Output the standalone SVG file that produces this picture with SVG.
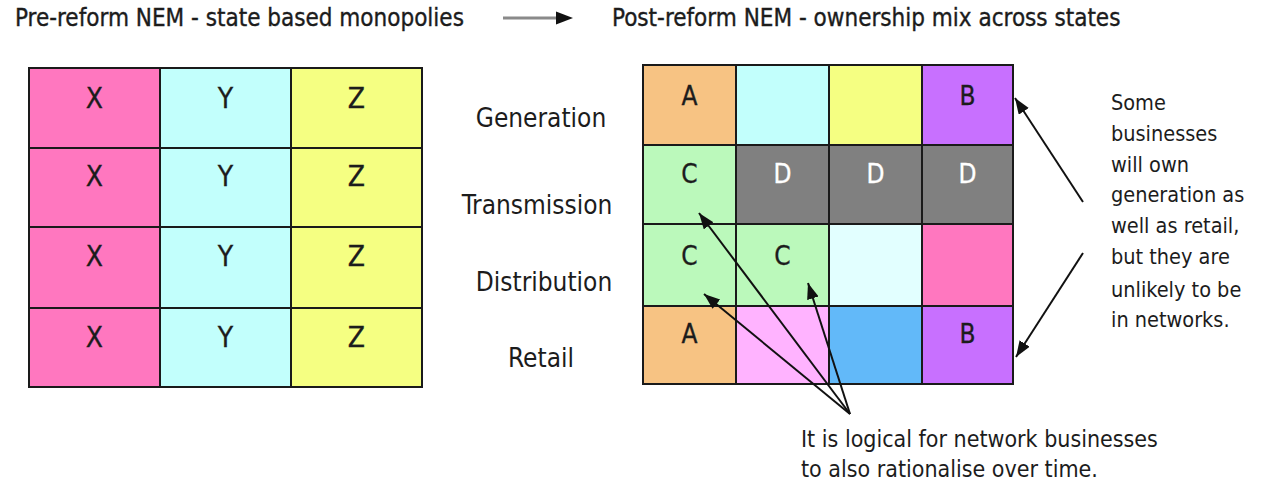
<svg xmlns="http://www.w3.org/2000/svg" width="1266" height="483" viewBox="0 0 1266 483">
<style>
text{font-family:"DejaVu Sans Condensed","DejaVu Sans","Liberation Sans",sans-serif;fill:#1c1c1c}
.title{font-size:24px;stroke:#1c1c1c;stroke-width:0.35}
.lbl{font-size:26px;text-anchor:middle}
.cl{font-size:28px;text-anchor:middle;stroke:#1c1c1c;stroke-width:0.3}
.cr{font-size:26px;text-anchor:middle;stroke:#1c1c1c;stroke-width:0.3}
.wt{fill:#ffffff;stroke:#ffffff}
.note{font-size:21.5px}
.note2{font-size:23px}
.cell{stroke:#1a1a1a;stroke-width:2}
.conn{stroke:#111;stroke-width:2;fill:none;marker-end:url(#ah)}
</style>
<defs>
<marker id="ah" markerUnits="userSpaceOnUse" markerWidth="18" markerHeight="14" refX="16" refY="6" orient="auto">
<path d="M0,0 L16,6 L0,12 z" fill="#111"/>
</marker>
</defs>
<rect width="1266" height="483" fill="#ffffff"/>

<g id="title-pre"><text class="title" x="15" y="26">Pre-reform NEM - state based monopolies</text></g>
<g id="title-post"><text class="title" x="612" y="26">Post-reform NEM - ownership mix across states</text></g>

<g id="pre-grid">
<g id="pre-gen-x"><rect class="cell" x="29" y="68" width="131" height="80" fill="#FF77BF"/><text class="cl" x="94.5" y="108">X</text></g>
<g id="pre-gen-y"><rect class="cell" x="160" y="68" width="131" height="80" fill="#C2FFFC"/><text class="cl" x="225.5" y="108">Y</text></g>
<g id="pre-gen-z"><rect class="cell" x="291" y="68" width="131" height="80" fill="#F5FF82"/><text class="cl" x="356.5" y="108">Z</text></g>
<g id="pre-tra-x"><rect class="cell" x="29" y="148" width="131" height="79" fill="#FF77BF"/><text class="cl" x="94.5" y="186">X</text></g>
<g id="pre-tra-y"><rect class="cell" x="160" y="148" width="131" height="79" fill="#C2FFFC"/><text class="cl" x="225.5" y="186">Y</text></g>
<g id="pre-tra-z"><rect class="cell" x="291" y="148" width="131" height="79" fill="#F5FF82"/><text class="cl" x="356.5" y="186">Z</text></g>
<g id="pre-dis-x"><rect class="cell" x="29" y="227" width="131" height="81" fill="#FF77BF"/><text class="cl" x="94.5" y="266">X</text></g>
<g id="pre-dis-y"><rect class="cell" x="160" y="227" width="131" height="81" fill="#C2FFFC"/><text class="cl" x="225.5" y="266">Y</text></g>
<g id="pre-dis-z"><rect class="cell" x="291" y="227" width="131" height="81" fill="#F5FF82"/><text class="cl" x="356.5" y="266">Z</text></g>
<g id="pre-ret-x"><rect class="cell" x="29" y="308" width="131" height="79" fill="#FF77BF"/><text class="cl" x="94.5" y="347">X</text></g>
<g id="pre-ret-y"><rect class="cell" x="160" y="308" width="131" height="79" fill="#C2FFFC"/><text class="cl" x="225.5" y="347">Y</text></g>
<g id="pre-ret-z"><rect class="cell" x="291" y="308" width="131" height="79" fill="#F5FF82"/><text class="cl" x="356.5" y="347">Z</text></g>
</g>

<g id="label-generation"><text class="lbl" x="541" y="127">Generation</text></g>
<g id="label-transmission"><text class="lbl" x="537" y="214">Transmission</text></g>
<g id="label-distribution"><text class="lbl" x="544" y="291">Distribution</text></g>
<g id="label-retail"><text class="lbl" x="541" y="367">Retail</text></g>

<g id="post-grid">
<g id="post-gen-1"><rect class="cell" x="643" y="65" width="93" height="80" fill="#F7C383"/><text class="cr" x="689.5" y="105">A</text></g>
<g id="post-gen-2"><rect class="cell" x="736" y="65" width="93" height="80" fill="#C2FFFC"/></g>
<g id="post-gen-3"><rect class="cell" x="829" y="65" width="93" height="80" fill="#F5FF82"/></g>
<g id="post-gen-4"><rect class="cell" x="922" y="65" width="91" height="80" fill="#C870FF"/><text class="cr" x="967.5" y="105">B</text></g>
<g id="post-tra-1"><rect class="cell" x="643" y="145" width="93" height="79" fill="#BBF9BB"/><text class="cr" x="689.5" y="183">C</text></g>
<g id="post-tra-2"><rect class="cell" x="736" y="145" width="93" height="79" fill="#808080"/><text class="cr wt" x="782.5" y="183">D</text></g>
<g id="post-tra-3"><rect class="cell" x="829" y="145" width="93" height="79" fill="#808080"/><text class="cr wt" x="875.5" y="183">D</text></g>
<g id="post-tra-4"><rect class="cell" x="922" y="145" width="91" height="79" fill="#808080"/><text class="cr wt" x="967.5" y="183">D</text></g>
<g id="post-dis-1"><rect class="cell" x="643" y="224" width="93" height="82" fill="#BBF9BB"/><text class="cr" x="689.5" y="265">C</text></g>
<g id="post-dis-2"><rect class="cell" x="736" y="224" width="93" height="82" fill="#BBF9BB"/><text class="cr" x="782.5" y="265">C</text></g>
<g id="post-dis-3"><rect class="cell" x="829" y="224" width="93" height="82" fill="#E2FFFF"/></g>
<g id="post-dis-4"><rect class="cell" x="922" y="224" width="91" height="82" fill="#FF77BF"/></g>
<g id="post-ret-1"><rect class="cell" x="643" y="306" width="93" height="78" fill="#F7C383"/><text class="cr" x="689.5" y="343">A</text></g>
<g id="post-ret-2"><rect class="cell" x="736" y="306" width="93" height="78" fill="#FFB3FF"/></g>
<g id="post-ret-3"><rect class="cell" x="829" y="306" width="93" height="78" fill="#62B9F9"/></g>
<g id="post-ret-4"><rect class="cell" x="922" y="306" width="91" height="78" fill="#C870FF"/><text class="cr" x="967.5" y="343">B</text></g>
</g>

<g id="note-right">
<text class="note" x="1111" y="110">Some</text>
<text class="note" x="1111" y="141">businesses</text>
<text class="note" x="1111" y="172">will own</text>
<text class="note" x="1111" y="202">generation as</text>
<text class="note" x="1111" y="233">well as retail,</text>
<text class="note" x="1111" y="264">but they are</text>
<text class="note" x="1111" y="297">unlikely to be</text>
<text class="note" x="1111" y="327">in networks.</text>
</g>

<g id="note-bottom">
<text class="note2" x="801" y="447">It is logical for network businesses</text>
<text class="note2" x="801" y="477">to also rationalise over time.</text>
</g>

<g id="connectors">
<line x1="503" y1="18" x2="558" y2="18" stroke="#8a8a8a" stroke-width="3"/>
<path d="M556,11.5 L573,18 L556,24.5 z" fill="#111"/>
<line class="conn" x1="1083" y1="202" x2="1015" y2="98"/>
<line class="conn" x1="1083" y1="253" x2="1016" y2="357"/>
<line class="conn" x1="850" y1="414" x2="699" y2="213"/>
<line class="conn" x1="850" y1="414" x2="704" y2="294"/>
<line class="conn" x1="850" y1="414" x2="808" y2="283"/>
</g>
</svg>
